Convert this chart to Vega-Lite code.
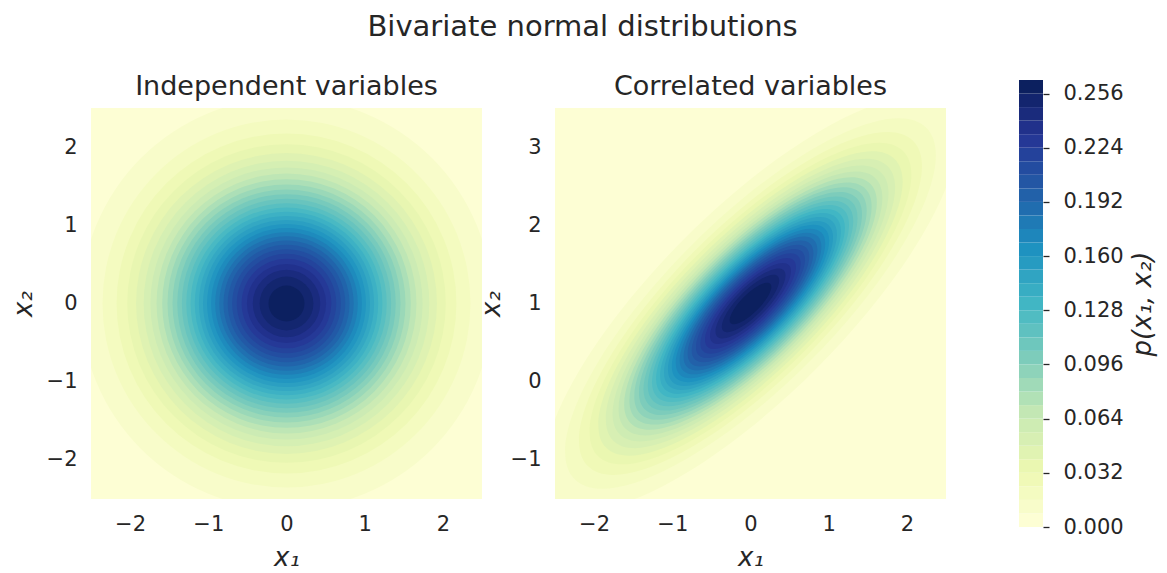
{
  "$schema": "https://vega.github.io/schema/vega-lite/v6.json",
  "padding": {"left": 10, "top": 13, "right": 5, "bottom": 5},
  "background": "white",
  "title": {"text": "Bivariate normal distributions", "fontSize": 29, "offset": 31, "anchor": "middle"},
  "datasets": {
    "ind": [
      {"k":0,"L":0,"m":0.0025,"mu1":0,"mu2":0,"r":null},
      {"k":1,"L":0.005,"m":0.0075,"mu1":0,"mu2":0,"r":2.6308},
      {"k":2,"L":0.01,"m":0.0125,"mu1":0,"mu2":0,"r":2.3526},
      {"k":3,"L":0.015,"m":0.0175,"mu1":0,"mu2":0,"r":2.1734},
      {"k":4,"L":0.02,"m":0.0225,"mu1":0,"mu2":0,"r":2.0367},
      {"k":5,"L":0.025,"m":0.0275,"mu1":0,"mu2":0,"r":1.9241},
      {"k":6,"L":0.03,"m":0.0325,"mu1":0,"mu2":0,"r":1.8268},
      {"k":7,"L":0.035,"m":0.0375,"mu1":0,"mu2":0,"r":1.7404},
      {"k":8,"L":0.04,"m":0.0425,"mu1":0,"mu2":0,"r":1.6619},
      {"k":9,"L":0.045,"m":0.0475,"mu1":0,"mu2":0,"r":1.5895},
      {"k":10,"L":0.05,"m":0.0525,"mu1":0,"mu2":0,"r":1.5218},
      {"k":11,"L":0.055,"m":0.0575,"mu1":0,"mu2":0,"r":1.4578},
      {"k":12,"L":0.06,"m":0.0625,"mu1":0,"mu2":0,"r":1.3968},
      {"k":13,"L":0.065,"m":0.0675,"mu1":0,"mu2":0,"r":1.3383},
      {"k":14,"L":0.07,"m":0.0725,"mu1":0,"mu2":0,"r":1.2817},
      {"k":15,"L":0.075,"m":0.0775,"mu1":0,"mu2":0,"r":1.2267},
      {"k":16,"L":0.08,"m":0.0825,"mu1":0,"mu2":0,"r":1.1729},
      {"k":17,"L":0.085,"m":0.0875,"mu1":0,"mu2":0,"r":1.12},
      {"k":18,"L":0.09,"m":0.0925,"mu1":0,"mu2":0,"r":1.0678},
      {"k":19,"L":0.095,"m":0.0975,"mu1":0,"mu2":0,"r":1.0159},
      {"k":20,"L":0.1,"m":0.1025,"mu1":0,"mu2":0,"r":0.9641},
      {"k":21,"L":0.105,"m":0.1075,"mu1":0,"mu2":0,"r":0.912},
      {"k":22,"L":0.11,"m":0.1125,"mu1":0,"mu2":0,"r":0.8595},
      {"k":23,"L":0.115,"m":0.1175,"mu1":0,"mu2":0,"r":0.8062},
      {"k":24,"L":0.12,"m":0.1225,"mu1":0,"mu2":0,"r":0.7515},
      {"k":25,"L":0.125,"m":0.1275,"mu1":0,"mu2":0,"r":0.6951},
      {"k":26,"L":0.13,"m":0.1325,"mu1":0,"mu2":0,"r":0.6362},
      {"k":27,"L":0.135,"m":0.1375,"mu1":0,"mu2":0,"r":0.5738},
      {"k":28,"L":0.14,"m":0.1425,"mu1":0,"mu2":0,"r":0.5064},
      {"k":29,"L":0.145,"m":0.1475,"mu1":0,"mu2":0,"r":0.4316},
      {"k":30,"L":0.15,"m":0.1525,"mu1":0,"mu2":0,"r":0.3442},
      {"k":31,"L":0.155,"m":0.1575,"mu1":0,"mu2":0,"r":0.23}
    ],
    "cor": [
      {"k":0,"L":0,"U":0.008,"m":0.004,"mu1":0,"mu2":1,"a":null},
      {"k":1,"L":0.008,"U":0.016,"m":0.012,"mu1":0,"mu2":1,"a":3.5503},
      {"k":2,"L":0.016,"U":0.024,"m":0.02,"mu1":0,"mu2":1,"a":3.1795},
      {"k":3,"L":0.024,"U":0.032,"m":0.028,"mu1":0,"mu2":1,"a":2.941},
      {"k":4,"L":0.032,"U":0.04,"m":0.036,"mu1":0,"mu2":1,"a":2.7593},
      {"k":5,"L":0.04,"U":0.048,"m":0.044,"mu1":0,"mu2":1,"a":2.6097},
      {"k":6,"L":0.048,"U":0.056,"m":0.052,"mu1":0,"mu2":1,"a":2.4808},
      {"k":7,"L":0.056,"U":0.064,"m":0.06,"mu1":0,"mu2":1,"a":2.3663},
      {"k":8,"L":0.064,"U":0.072,"m":0.068,"mu1":0,"mu2":1,"a":2.2624},
      {"k":9,"L":0.072,"U":0.08,"m":0.076,"mu1":0,"mu2":1,"a":2.1667},
      {"k":10,"L":0.08,"U":0.088,"m":0.084,"mu1":0,"mu2":1,"a":2.0773},
      {"k":11,"L":0.088,"U":0.096,"m":0.092,"mu1":0,"mu2":1,"a":1.993},
      {"k":12,"L":0.096,"U":0.104,"m":0.1,"mu1":0,"mu2":1,"a":1.9128},
      {"k":13,"L":0.104,"U":0.112,"m":0.108,"mu1":0,"mu2":1,"a":1.8359},
      {"k":14,"L":0.112,"U":0.12,"m":0.116,"mu1":0,"mu2":1,"a":1.7618},
      {"k":15,"L":0.12,"U":0.128,"m":0.124,"mu1":0,"mu2":1,"a":1.6898},
      {"k":16,"L":0.128,"U":0.136,"m":0.132,"mu1":0,"mu2":1,"a":1.6196},
      {"k":17,"L":0.136,"U":0.144,"m":0.14,"mu1":0,"mu2":1,"a":1.5508},
      {"k":18,"L":0.144,"U":0.152,"m":0.148,"mu1":0,"mu2":1,"a":1.483},
      {"k":19,"L":0.152,"U":0.16,"m":0.156,"mu1":0,"mu2":1,"a":1.4158},
      {"k":20,"L":0.16,"U":0.168,"m":0.164,"mu1":0,"mu2":1,"a":1.349},
      {"k":21,"L":0.168,"U":0.176,"m":0.172,"mu1":0,"mu2":1,"a":1.2823},
      {"k":22,"L":0.176,"U":0.184,"m":0.18,"mu1":0,"mu2":1,"a":1.2152},
      {"k":23,"L":0.184,"U":0.192,"m":0.188,"mu1":0,"mu2":1,"a":1.1475},
      {"k":24,"L":0.192,"U":0.2,"m":0.196,"mu1":0,"mu2":1,"a":1.0787},
      {"k":25,"L":0.2,"U":0.208,"m":0.204,"mu1":0,"mu2":1,"a":1.0083},
      {"k":26,"L":0.208,"U":0.216,"m":0.212,"mu1":0,"mu2":1,"a":0.9356},
      {"k":27,"L":0.216,"U":0.224,"m":0.22,"mu1":0,"mu2":1,"a":0.86},
      {"k":28,"L":0.224,"U":0.232,"m":0.228,"mu1":0,"mu2":1,"a":0.7801},
      {"k":29,"L":0.232,"U":0.24,"m":0.236,"mu1":0,"mu2":1,"a":0.6944},
      {"k":30,"L":0.24,"U":0.248,"m":0.244,"mu1":0,"mu2":1,"a":0.6002},
      {"k":31,"L":0.248,"U":0.256,"m":0.252,"mu1":0,"mu2":1,"a":0.4921},
      {"k":32,"L":0.256,"U":0.264,"m":0.26,"mu1":0,"mu2":1,"a":0.3576}
    ]
  },
  "spacing": 73,
  "bounds": "flush",
  "center": true,
  "resolve": {"scale": {"color": "independent", "x": "independent", "y": "independent", "size": "independent"}},
  "hconcat": [
    {
      "width": 391,
      "height": 391,
      "title": "Independent variables",
      "data": {"name": "ind"},
      "layer": [
        {
          "transform": [{"filter": "datum.k == 0"}],
          "mark": {"type": "rect"},
          "encoding": {
            "color": {"field": "m", "type": "quantitative", "legend": null,
              "scale": {"type": "linear", "interpolate": "rgb", "domain": [0, 0.02, 0.04, 0.06, 0.08, 0.1, 0.12, 0.14, 0.16],
                "range": ["#ffffd9", "#edf8b1", "#c7e9b4", "#7fcdbb", "#41b6c4", "#1d91c0", "#225ea8", "#253494", "#081d58"]}}
          }
        },
        {
          "transform": [{"filter": "datum.k > 0"}],
          "mark": {"type": "point", "shape": "circle", "filled": true, "opacity": 1, "strokeWidth": 0, "clip": true},
          "encoding": {
            "x": {"field": "mu1", "type": "quantitative", "scale": {"domain": [-2.5, 2.5], "nice": false, "zero": false},
              "axis": {"values": [-2, -1, 0, 1, 2], "title": "x₁", "labelExpr": "replace(datum.label, '-', '−')"}},
            "y": {"field": "mu2", "type": "quantitative", "scale": {"domain": [-2.5, 2.5], "nice": false, "zero": false},
              "axis": {"values": [-2, -1, 0, 1, 2], "title": "x₂", "labelExpr": "replace(datum.label, '-', '−')"}},
            "size": {"field": "r", "type": "quantitative", "legend": null,
              "scale": {"type": "pow", "exponent": 2, "domain": [0, 10], "range": [0, 2446096]}},
            "color": {"field": "m", "type": "quantitative", "legend": null,
              "scale": {"type": "linear", "interpolate": "rgb", "domain": [0, 0.02, 0.04, 0.06, 0.08, 0.1, 0.12, 0.14, 0.16],
                "range": ["#ffffd9", "#edf8b1", "#c7e9b4", "#7fcdbb", "#41b6c4", "#1d91c0", "#225ea8", "#253494", "#081d58"]}},
            "order": {"field": "k", "type": "quantitative"}
          }
        }
      ]
    },
    {
      "width": 391,
      "height": 391,
      "title": "Correlated variables",
      "data": {"name": "cor"},
      "layer": [
        {
          "transform": [{"filter": "datum.k == 0"}],
          "mark": {"type": "rect"},
          "encoding": {
            "color": {"field": "m", "type": "quantitative", "legend": null,
              "scale": {"type": "linear", "interpolate": "rgb", "domain": [0, 0.033, 0.066, 0.099, 0.132, 0.165, 0.198, 0.231, 0.264],
                "range": ["#ffffd9", "#edf8b1", "#c7e9b4", "#7fcdbb", "#41b6c4", "#1d91c0", "#225ea8", "#253494", "#081d58"]}}
          }
        },
        {
          "transform": [{"filter": "datum.k > 0"}],
          "mark": {"type": "point", "shape": "M-1,0A1,0.33333,0,1,1,1,0A1,0.33333,0,1,1,-1,0Z", "angle": 315, "filled": true, "opacity": 1, "strokeWidth": 0, "clip": true},
          "encoding": {
            "x": {"field": "mu1", "type": "quantitative", "scale": {"domain": [-2.5, 2.5], "nice": false, "zero": false},
              "axis": {"values": [-2, -1, 0, 1, 2], "title": "x₁", "labelExpr": "replace(datum.label, '-', '−')"}},
            "y": {"field": "mu2", "type": "quantitative", "scale": {"domain": [-1.5, 3.5], "nice": false, "zero": false},
              "axis": {"values": [-1, 0, 1, 2, 3], "title": "x₂", "titlePadding": 6, "labelExpr": "replace(datum.label, '-', '−')"}},
            "size": {"field": "a", "type": "quantitative", "legend": null,
              "scale": {"type": "pow", "exponent": 2, "domain": [0, 10], "range": [0, 2446096]}},
            "color": {"field": "m", "type": "quantitative", "legend": null,
              "scale": {"type": "linear", "interpolate": "rgb", "domain": [0, 0.033, 0.066, 0.099, 0.132, 0.165, 0.198, 0.231, 0.264],
                "range": ["#ffffd9", "#edf8b1", "#c7e9b4", "#7fcdbb", "#41b6c4", "#1d91c0", "#225ea8", "#253494", "#081d58"]}},
            "order": {"field": "k", "type": "quantitative"}
          }
        }
      ]
    },
    {
      "width": 24,
      "height": 447,
      "data": {"name": "cor"},
      "mark": {"type": "rect"},
      "encoding": {
        "y": {"field": "L", "type": "quantitative", "scale": {"domain": [0, 0.264], "nice": false, "zero": true},
          "axis": {"orient": "right", "values": [0, 0.032, 0.064, 0.096, 0.128, 0.16, 0.192, 0.224, 0.256], "format": ".3f",
            "ticks": true, "tickSize": 6, "tickWidth": 1.3, "tickColor": "#262626", "labelPadding": 14,
            "title": "p(x₁, x₂)", "titleAngle": 270, "titleBaseline": "top", "titlePadding": 6}},
        "y2": {"field": "U"},
        "color": {"field": "m", "type": "quantitative", "legend": null,
          "scale": {"type": "linear", "interpolate": "rgb", "domain": [0, 0.033, 0.066, 0.099, 0.132, 0.165, 0.198, 0.231, 0.264],
            "range": ["#ffffd9", "#edf8b1", "#c7e9b4", "#7fcdbb", "#41b6c4", "#1d91c0", "#225ea8", "#253494", "#081d58"]}}
      }
    }
  ],
  "config": {
    "font": "DejaVu Sans",
    "view": {"stroke": null},
    "axis": {"domain": false, "ticks": false, "grid": false, "labelFont": "DejaVu Sans", "labelFontSize": 21, "labelColor": "#262626",
      "labelPadding": 14, "titleFont": "DejaVu Sans", "titleFontSize": 26, "titleFontStyle": "italic", "titleFontWeight": "normal",
      "titleColor": "#262626", "titlePadding": 10},
    "title": {"font": "DejaVu Sans", "fontSize": 27, "fontWeight": "normal", "color": "#262626", "offset": 7}
  }
}
